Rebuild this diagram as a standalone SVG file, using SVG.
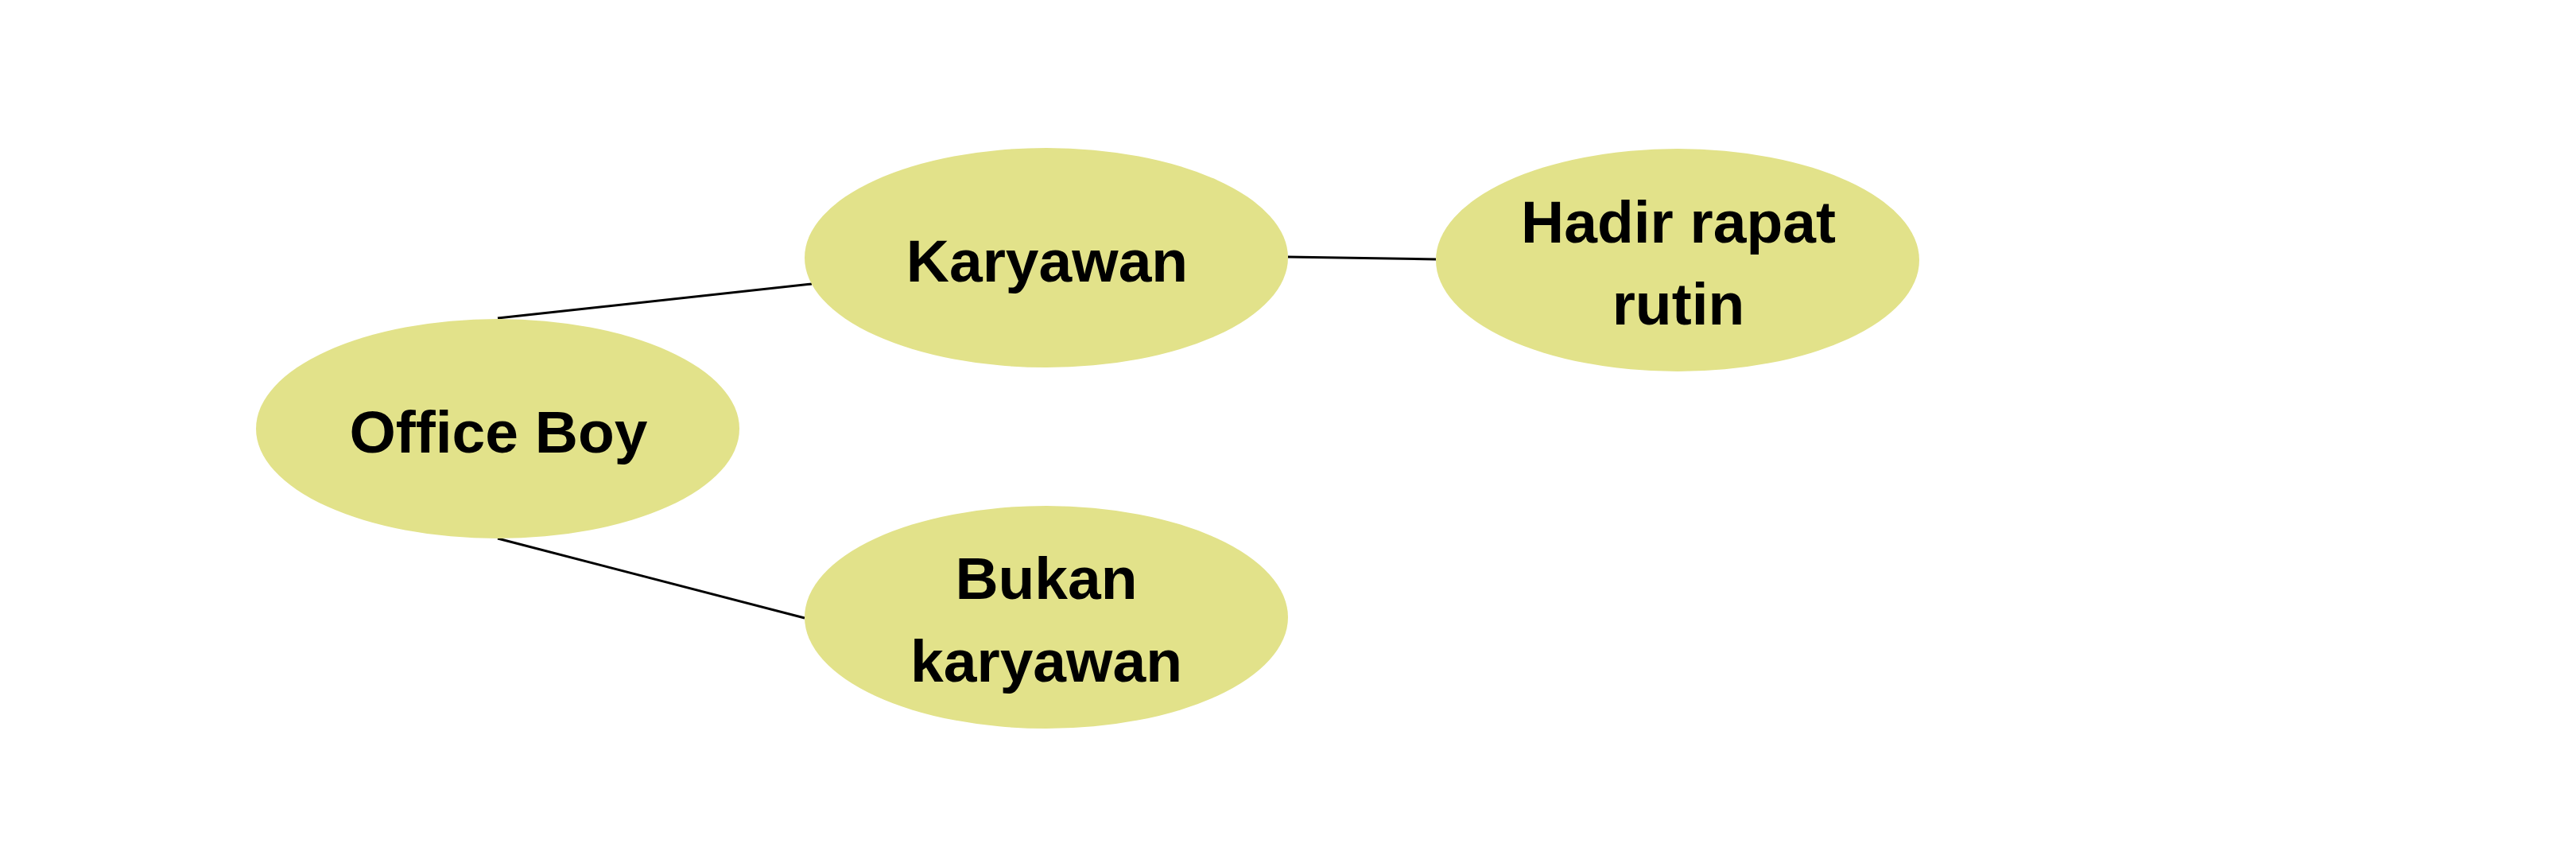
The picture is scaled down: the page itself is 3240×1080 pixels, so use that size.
<svg xmlns="http://www.w3.org/2000/svg" width="3240" height="1080" viewBox="0 0 3240 1080">
<style>
.node{fill:#e2e28a;}
.lbl{font-family:"Liberation Sans",Arial,sans-serif;font-weight:bold;font-size:75px;fill:#000;text-anchor:middle;}
.edge{stroke:#000;stroke-width:3;fill:none;}
</style>
<rect width="3240" height="1080" fill="#fff"/>
<g id="connectors">
<line class="edge" x1="626" y1="400" x2="1021" y2="357"/>
<line class="edge" x1="1620" y1="323" x2="1806" y2="326"/>
<line class="edge" x1="626" y1="677" x2="1012" y2="777"/>
</g>
<g id="office-boy">
<ellipse class="node" cx="626" cy="539" rx="304" ry="138"/>
<text class="lbl" x="627" y="569">Office Boy</text>
</g>
<g id="karyawan">
<ellipse class="node" cx="1316" cy="324" rx="304" ry="138"/>
<text class="lbl" x="1317" y="354">Karyawan</text>
</g>
<g id="hadir-rapat-rutin">
<ellipse class="node" cx="2110" cy="327" rx="304" ry="140"/>
<text class="lbl" x="2111" y="305">Hadir rapat</text>
<text class="lbl" x="2111" y="408">rutin</text>
</g>
<g id="bukan-karyawan">
<ellipse class="node" cx="1316" cy="776" rx="304" ry="140"/>
<text class="lbl" x="1316" y="753">Bukan</text>
<text class="lbl" x="1316" y="857">karyawan</text>
</g>
</svg>
